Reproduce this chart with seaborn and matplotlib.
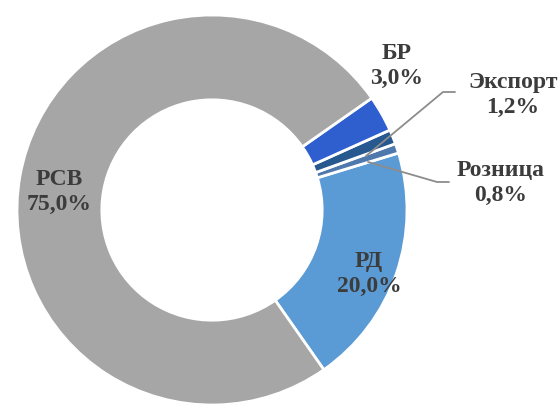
import matplotlib
matplotlib.use("Agg")
import matplotlib.pyplot as plt
import seaborn as sns

# Data
categories = ["РД", "Розница", "Экспорт", "БР", "РСВ"]
shares = [20.0, 0.8, 1.2, 3.0, 75.0]
label_texts = ["РД\n20,0%", "Розница\n0,8%", "Экспорт\n1,2%", "БР\n3,0%", "РСВ\n75,0%"]

sns.set_theme(style="white")
plt.rcParams["font.family"] = ["Liberation Serif", "DejaVu Serif"]

colors = sns.color_palette(["#5b9bd5", "#4f79ad", "#27588f", "#2f5fcf", "#a6a6a6"])

W, H = 558, 407
fig = plt.figure(figsize=(W / 100, H / 100), dpi=100)
cx, cy, R = 212, 210, 195
ax = fig.add_axes([(cx - R) / W, (H - cy - R) / H, 2 * R / W, 2 * R / H])

wedges, _ = ax.pie(shares, colors=colors, startangle=-55, counterclock=True,
                   radius=1.0, wedgeprops=dict(width=0.435, edgecolor="white", linewidth=2))
ax.set_xlim(-1, 1)
ax.set_ylim(-1, 1)
ax.set_aspect("equal", adjustable="box")
ax.axis("off")

def px(x, y):
    return ((x - cx) / R, (cy - y) / R)

txt_kw = dict(fontsize=17, fontweight="bold", color="#3c3c3c", ha="center", va="center",
              linespacing=1.25)
label_pos = {
    "РД": (369, 274),
    "Розница": (501, 183),
    "Экспорт": (513, 95),
    "БР": (397, 66),
    "РСВ": (59, 192),
}
for cat, lab in zip(categories, label_texts):
    x, y = px(*label_pos[cat])
    ax.text(x, y, lab, **txt_kw)

line_kw = dict(color="#8c8c8c", lw=1.3, clip_on=False)
# Экспорт leader
pts = [px(455, 92), px(443, 92), px(366, 156)]
ax.plot([p[0] for p in pts], [p[1] for p in pts], **line_kw)
# Розница leader
pts = [px(449, 182), px(437, 182), px(368, 162)]
ax.plot([p[0] for p in pts], [p[1] for p in pts], **line_kw)

fig.savefig("out.png", dpi=100, facecolor="white")
